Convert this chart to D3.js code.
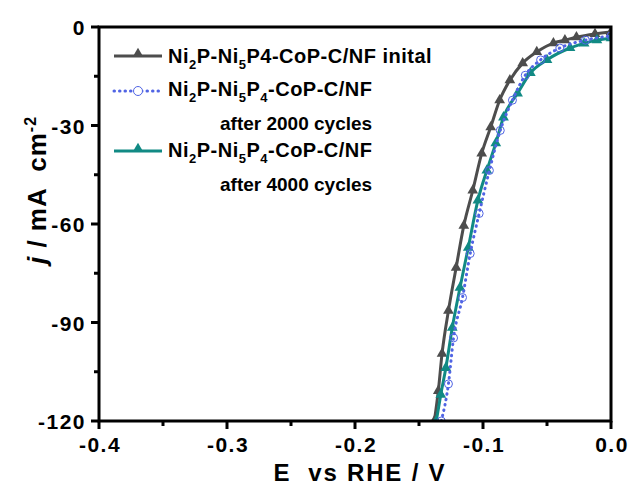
<!DOCTYPE html>
<html>
<head>
<meta charset="utf-8">
<script src="https://cdn.jsdelivr.net/npm/d3@7"></script>
<style>
  body { margin: 0; background: #fff; }
  text { font-family: "Liberation Sans", Arial, sans-serif; font-weight: bold; white-space: pre; }
</style>
</head>
<body>
<div class="chart"></div>
<script>
const w = 632;
const h = 488;

// E (V vs RHE), j (mA cm-2)
const initialE = [-0.138, -0.1349, -0.132, -0.127, -0.121, -0.115, -0.108, -0.101, -0.094, -0.087, -0.079, -0.069, -0.058, -0.045, -0.036, -0.027, -0.0125, 0.0];
const initialJ = [-120, -110.8, -99.5, -86.4, -73.3, -60.5, -49.8, -38.5, -30.5, -22.3, -16.2, -11.0, -7.6, -4.9, -4.0, -3.1, -2.1, -1.5];

const cyc2000E = [-0.1326, -0.127, -0.123, -0.116, -0.110, -0.103, -0.095, -0.0865, -0.077, -0.067, -0.055, -0.040, -0.020, 0.0];
const cyc2000J = [-120, -108.7, -94.7, -82.4, -69.0, -56.8, -43.7, -31.5, -22.3, -14.7, -10.0, -6.4, -4.0, -2.7];

const cyc4000E = [-0.1365, -0.133, -0.129, -0.124, -0.118, -0.1115, -0.104, -0.097, -0.090, -0.084, -0.073, -0.063, -0.050, -0.032, -0.021, -0.011, 0.0];
const cyc4000J = [-120, -112.0, -103.8, -91.6, -79.4, -67.2, -52.8, -43.7, -35.4, -27.5, -20.2, -14.0, -10.0, -6.4, -5.0, -4.0, -3.4];

const xTicks = [-0.4, -0.3, -0.2, -0.1, 0.0];
const xMinor = [-0.35, -0.25, -0.15, -0.05];
const yTicks = [0, -30, -60, -90, -120];
const yMinor = [-15, -45, -75, -105];

const m = {left: 99, right: 21, top: 27, bottom: 67};

const svg = d3.select(".chart")
  .append("svg")
  .attr("width", w)
  .attr("height", h);

const x = d3.scaleLinear().domain([-0.4, 0]).range([m.left, w - m.right]);
const y = d3.scaleLinear().domain([0, -120]).range([m.top, h - m.bottom]);

svg.append("defs").append("clipPath").attr("id", "clip")
  .append("rect")
  .attr("x", x(-0.4)).attr("y", y(0))
  .attr("width", x(0) - x(-0.4)).attr("height", y(-120) - y(0));

const series = [
  {E: initialE, J: initialJ, color: "#4d4d4d", dash: null, marker: "tri", width: 3},
  {E: cyc4000E, J: cyc4000J, color: "#118a84", dash: null, marker: "tri", width: 3},
  {E: cyc2000E, J: cyc2000J, color: "#5064e4", dash: "0.5,5", marker: "circ", width: 3}
];

const line = d3.line().x(d => x(d[0])).y(d => y(d[1])).curve(d3.curveMonotoneX);
const tri = d3.symbol().type(d3.symbolTriangle).size(50);

const plot = svg.append("g").attr("clip-path", "url(#clip)");

series.forEach(s => {
  const pts = s.E.map((e, i) => [e, s.J[i]]);
  plot.append("path")
    .attr("d", line(pts))
    .attr("fill", "none")
    .attr("stroke", s.color)
    .attr("stroke-width", s.width)
    .attr("stroke-linecap", s.dash ? "round" : "butt")
    .attr("stroke-dasharray", s.dash);
  if (s.marker === "tri") {
    plot.selectAll(null).data(pts).enter().append("path")
      .attr("d", tri)
      .attr("transform", d => `translate(${x(d[0])},${y(d[1])})`)
      .attr("fill", s.color);
  } else {
    plot.selectAll(null).data(pts).enter().append("circle")
      .attr("cx", d => x(d[0])).attr("cy", d => y(d[1]))
      .attr("r", 4)
      .attr("fill", "none")
      .attr("stroke", s.color).attr("stroke-width", 1);
  }
});

// tick marks (outward)
const ticks = svg.append("g").attr("stroke", "#000").attr("stroke-width", 3);
ticks.selectAll(".xt").data(xTicks.concat(xMinor)).enter().append("line")
  .attr("x1", d => x(d)).attr("x2", d => x(d))
  .attr("y1", y(-120)).attr("y2", d => y(-120) + (xTicks.includes(d) ? 8 : 5));
ticks.selectAll(".yt").data(yTicks.concat(yMinor)).enter().append("line")
  .attr("y1", d => y(d)).attr("y2", d => y(d))
  .attr("x1", x(-0.4)).attr("x2", d => x(-0.4) - (yTicks.includes(d) ? 8 : 5));

// tick labels
svg.append("g").selectAll("text").data(xTicks).enter().append("text")
  .attr("x", d => x(d) + 1).attr("y", y(-120) + 31)
  .attr("text-anchor", "middle")
  .style("font-size", "21px").style("letter-spacing", "1.5px")
  .text(d => d.toFixed(1));
svg.append("g").selectAll("text").data(yTicks).enter().append("text")
  .attr("x", x(-0.4) - 13).attr("y", d => y(d) + 8)
  .attr("text-anchor", "end")
  .style("font-size", "21px").style("letter-spacing", "1.5px")
  .text(d => String(d));

// frame
svg.append("rect")
  .attr("x", x(-0.4)).attr("y", y(0))
  .attr("width", x(0) - x(-0.4)).attr("height", y(-120) - y(0))
  .attr("fill", "none").attr("stroke", "#000").attr("stroke-width", 3);

// axis titles
svg.append("text")
  .attr("x", 360).attr("y", 481)
  .attr("text-anchor", "middle")
  .style("font-size", "24px")
  .style("letter-spacing", "1.8px")
  .text("E  vs RHE / V");

const yt = svg.append("text")
  .attr("transform", `translate(46,190) rotate(-90)`)
  .attr("text-anchor", "middle")
  .style("font-size", "26px")
  .style("letter-spacing", "1px");
yt.append("tspan").style("font-style", "italic").text("j");
yt.append("tspan").text(" / mA  cm");
yt.append("tspan").attr("dy", "-10").style("font-size", "16px").text("-2");

// legend
const legend = svg.append("g");
const legItems = [
  {ly: 56, ty: 63, s: series[0], parts: [["Ni"], ["2", 1], ["P-Ni"], ["5", 1], ["P4-CoP-C/NF inital"]]},
  {ly: 91, ty: 96, s: series[2], parts: [["Ni"], ["2", 1], ["P-Ni"], ["5", 1], ["P"], ["4", 1], ["-CoP-C/NF"]]},
  {ly: 151, ty: 157, s: series[1], parts: [["Ni"], ["2", 1], ["P-Ni"], ["5", 1], ["P"], ["4", 1], ["-CoP-C/NF"]]}
];
legItems.forEach(it => {
  legend.append("line")
    .attr("x1", 114).attr("x2", 162).attr("y1", it.ly).attr("y2", it.ly)
    .attr("stroke", it.s.color).attr("stroke-width", it.s.width)
    .attr("stroke-linecap", it.s.dash ? "round" : "butt")
    .attr("stroke-dasharray", it.s.dash);
  if (it.s.marker === "tri") {
    legend.append("path").attr("d", tri).attr("transform", `translate(138,${it.ly - 2})`).attr("fill", it.s.color);
  } else {
    legend.append("circle").attr("cx", 138).attr("cy", it.ly).attr("r", 4.5)
      .attr("fill", "#fff").attr("stroke", it.s.color).attr("stroke-width", 1);
  }
  const t = legend.append("text").attr("x", 168).attr("y", it.ty)
    .style("font-size", "20px").style("letter-spacing", "0.5px");
  let prevSub = false;
  it.parts.forEach(p => {
    const sub = !!p[1];
    t.append("tspan")
      .text(p[0])
      .style("font-size", sub ? "13px" : null)
      .attr("dy", sub ? (prevSub ? 0 : 6) : (prevSub ? -6 : 0));
    prevSub = sub;
  });
});
legend.append("text").attr("x", 220).attr("y", 130).style("font-size", "19px").text("after 2000 cycles");
legend.append("text").attr("x", 220).attr("y", 191).style("font-size", "19px").text("after 4000 cycles");
</script>
</body>
</html>
